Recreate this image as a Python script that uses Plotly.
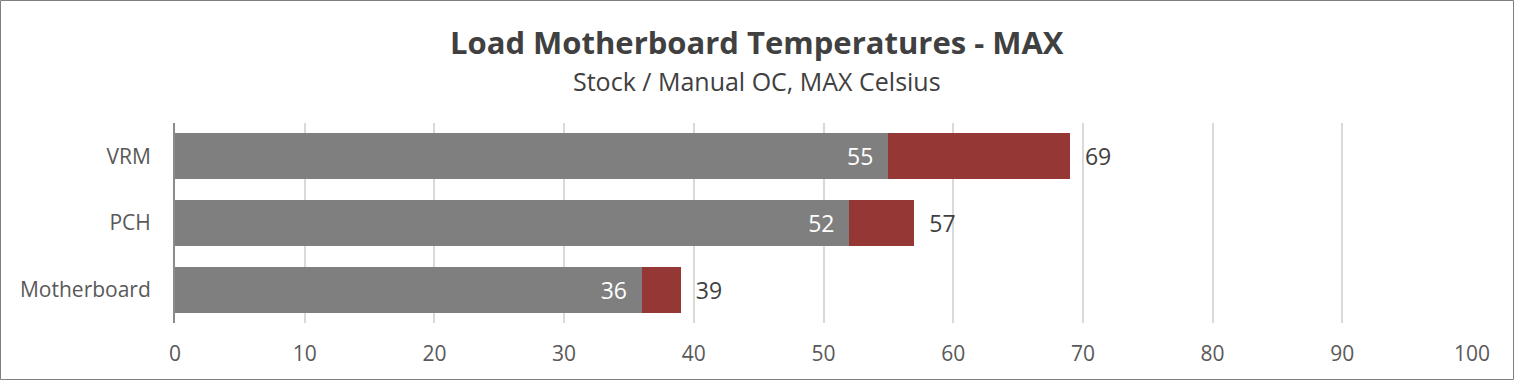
import plotly.graph_objects as go

categories = ["VRM", "PCH", "Motherboard"]
stock = [55, 52, 36]
manual_oc = [69, 57, 39]
x_ticks = [0, 10, 20, 30, 40, 50, 60, 70, 80, 90, 100]

diff = [m - s for m, s in zip(manual_oc, stock)]

W, H = 1514, 380
ml, mr, mt, mb = 175, 42, 123, 57
pw, ph = W - ml - mr, H - mt - mb

FONT = "Open Sans"
NB = "\u00a0"
cx = (W / 2 - ml) / pw

fig = go.Figure()
fig.add_trace(go.Bar(
    y=categories, x=stock, orientation="h", name="Stock",
    marker=dict(color="#7F7F7F", line=dict(width=0)),
    text=[str(v) + NB * 2 for v in stock], textposition="inside", insidetextanchor="end",
    textfont=dict(color="white", size=23, family=FONT),
    cliponaxis=False,
))
fig.add_trace(go.Bar(
    y=categories, x=diff, orientation="h", name="Manual OC",
    marker=dict(color="#953735", line=dict(width=0)),
    text=[NB * 2 + str(v) for v in manual_oc], textposition="outside",
    textfont=dict(color="#404040", size=23, family=FONT),
    cliponaxis=False,
))

fig.update_layout(
    width=W, height=H, barmode="stack", bargap=0.31,
    margin=dict(l=ml, r=mr, t=mt, b=mb),
    paper_bgcolor="white", plot_bgcolor="white",
    showlegend=False,
    font=dict(family=FONT, color="#595959"),
    uniformtext=dict(mode=False),
    annotations=[
        dict(text="<b>Load Motherboard Temperatures - MAX</b>", xref="paper", yref="paper",
             x=cx, y=1 + (123 - 42) / ph, xanchor="center", yanchor="middle",
             showarrow=False, font=dict(size=31, color="#404040", family=FONT)),
        dict(text="Stock / Manual OC, MAX Celsius", xref="paper", yref="paper",
             x=cx, y=1 + (123 - 81) / ph, xanchor="center", yanchor="middle",
             showarrow=False, font=dict(size=25, color="#404040", family=FONT)),
    ],
    xaxis=dict(
        range=[0, 100], tickvals=x_ticks, ticktext=[str(v) for v in x_ticks],
        showgrid=True, gridcolor="#D9D9D9", gridwidth=2,
        zeroline=False, showline=False, ticks="",
        tickfont=dict(size=21, color="#595959", family=FONT),
        ticklabelstandoff=16,
    ),
    yaxis=dict(
        categoryorder="array", categoryarray=categories[::-1],
        showline=True, linecolor="#8C8C8C", linewidth=2,
        ticks="", showgrid=False, zeroline=False,
        tickfont=dict(size=21, color="#595959", family=FONT),
        ticklabelstandoff=18,
    ),
    shapes=[dict(
        type="rect", xref="paper", yref="paper",
        x0=(0.5 - ml) / pw, x1=(W - 0.5 - ml) / pw,
        y0=-(mb - 0.5) / ph, y1=1 + (mt - 0.5) / ph,
        line=dict(color="#7F7F7F", width=1), layer="above",
    )],
)

fig.write_html("out.html", config={"displayModeBar": False},
               post_script="document.body.style.margin='0';document.body.style.overflow='hidden';")
